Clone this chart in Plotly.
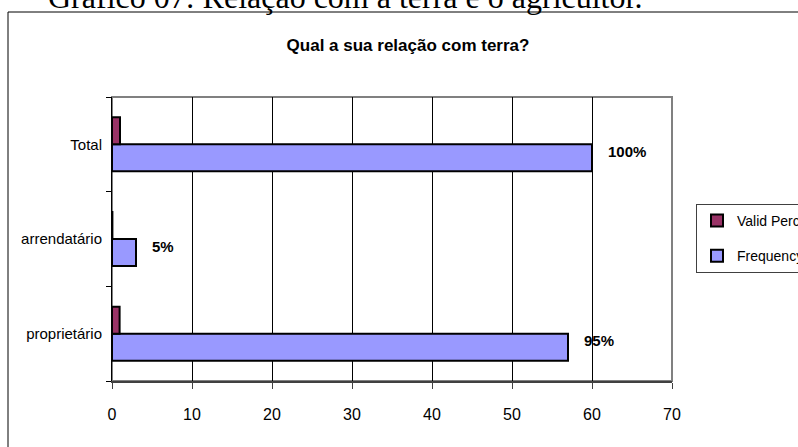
# -*- coding: utf-8 -*-
import plotly.graph_objects as go

# | data section |
categories = ["proprietário", "arrendatário", "Total"]
frequency = [57, 3, 60]
valid_percent = [0.95, 0.05, 1.0]
percent_labels = ["95%", "5%", "100%"]
x_ticks = [0, 10, 20, 30, 40, 50, 60, 70]

page_title = "Gráfico 07: Relação com a terra e o agricultor."
chart_title = "Qual a sua relação com terra?"

sans = "Liberation Sans, Arial, sans-serif"

# | graph section |
fig = go.Figure()

fig.add_trace(
    go.Bar(
        y=categories,
        x=frequency,
        orientation="h",
        name="Frequency",
        legendgroup="f",
        legendrank=2,
        marker={"color": "#9999FF", "line": {"color": "black", "width": 2}},
    )
)

fig.add_trace(
    go.Bar(
        y=categories,
        x=valid_percent,
        orientation="h",
        name="Valid Percent",
        legendgroup="v",
        legendrank=1,
        marker={"color": "#993366", "line": {"color": "black", "width": 2}},
    )
)

# percentage labels next to the frequency bars
for cat, val, lab in zip(categories, frequency, percent_labels):
    fig.add_annotation(
        x=val,
        y=cat,
        text="<b>" + lab + "</b>",
        showarrow=False,
        xanchor="left",
        xshift=14,
        yshift=-7,
        font={"family": sans, "size": 15, "color": "black"},
    )

# page caption, cut at the top of the picture
fig.add_annotation(
    x=(345 - 112) / 560,
    y=(381 - 17) / 284,
    xref="paper",
    yref="paper",
    text=page_title,
    showarrow=False,
    xanchor="center",
    yanchor="bottom",
    font={"family": "Liberation Serif, Times New Roman, serif", "size": 32, "color": "black"},
)

# outer chart frame
fig.add_shape(
    type="rect",
    xref="paper",
    yref="paper",
    x0=(8 - 112) / 560,
    x1=1.4,
    y0=-0.4,
    y1=(381 - 12) / 284,
    line={"color": "black", "width": 1},
    layer="below",
)
# plot area border
fig.add_shape(
    type="rect",
    xref="paper",
    yref="paper",
    x0=0,
    x1=1,
    y0=0,
    y1=1,
    line={"color": "#808080", "width": 2},
    layer="below",
)

fig.update_layout(
    width=798,
    height=447,
    margin={"l": 112, "r": 126, "t": 97, "b": 66, "autoexpand": False},
    paper_bgcolor="white",
    plot_bgcolor="white",
    barmode="group",
    bargap=0.43,
    bargroupgap=0,
    title={
        "text": "<b>" + chart_title + "</b>",
        "x": 408 / 798,
        "xanchor": "center",
        "y": 1 - 45 / 447,
        "yanchor": "middle",
        "font": {"family": sans, "size": 17, "color": "black"},
    },
    legend={
        "x": (696 - 112) / 560,
        "y": (381 - 204) / 284,
        "xanchor": "left",
        "yanchor": "top",
        "traceorder": "grouped",
        "tracegroupgap": 14,
        "bgcolor": "white",
        "bordercolor": "#404040",
        "borderwidth": 1,
        "font": {"family": sans, "size": 14, "color": "black"},
    },
    xaxis={
        "range": [0, 70],
        "tickvals": x_ticks,
        "showgrid": True,
        "gridcolor": "black",
        "gridwidth": 1,
        "zeroline": False,
        "showline": True,
        "linecolor": "#404040",
        "linewidth": 2,
        "ticks": "outside",
        "ticklen": 6,
        "tickcolor": "#404040",
        "ticklabelstandoff": 12,
        "tickfont": {"family": sans, "size": 16, "color": "black"},
        "automargin": False,
        "fixedrange": True,
    },
    yaxis={
        "type": "category",
        "categoryorder": "array",
        "categoryarray": categories,
        "showgrid": False,
        "showline": True,
        "linecolor": "black",
        "linewidth": 1,
        "ticks": "outside",
        "tickson": "boundaries",
        "ticklen": 5,
        "tickcolor": "black",
        "ticklabelstandoff": 6,
        "tickfont": {"family": sans, "size": 15, "color": "black"},
        "automargin": False,
        "fixedrange": True,
    },
)

# drop the default page margin so the figure sits at the window corner
fig.write_html(
    "out.html",
    config={"displayModeBar": False},
    post_script="document.body.style.margin = '0';",
)
